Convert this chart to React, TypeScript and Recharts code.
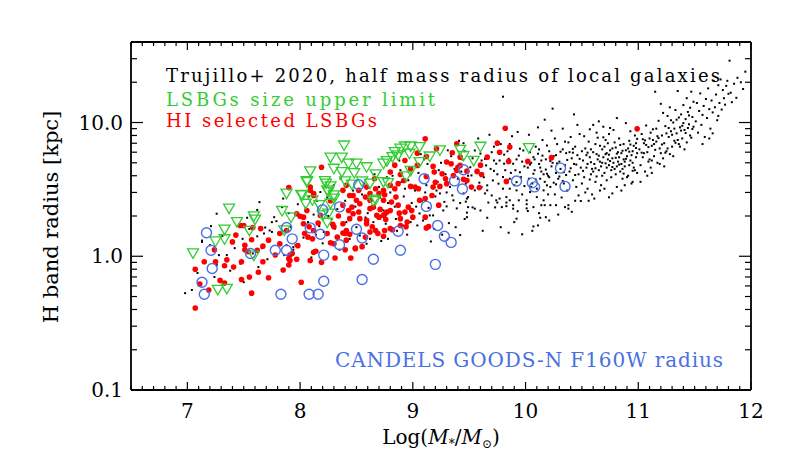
import { ScatterChart, Scatter, XAxis, YAxis } from "recharts";

// log stellar mass, radius [kpc]
const trujillo: [number, number][] = [
  [7.04, 0.56], [6.98, 0.53], [7.13, 1.31], [7.13, 1.28], [7.21, 1.68], [7.26, 2.08], [7.28, 1.02], [7.35, 1.02],
  [7.24, 0.7], [7.26, 0.86], [7.2, 1.21], [7.47, 0.88], [7.5, 0.64], [7.49, 1.35], [7.09, 0.75], [7.31, 1.42],
  [7.42, 1.15], [7.38, 0.78],
  [7.63, 0.83], [7.62, 1.41], [7.69, 1.64], [7.75, 1.52], [7.81, 1.48], [7.64, 2.54], [7.62, 2.22], [7.53, 1.94],
  [7.77, 1.96], [7.75, 1.8], [7.79, 1.83], [7.84, 2.33], [7.85, 2.7], [7.68, 1.48], [7.73, 1.56], [7.88, 1.21],
  [7.94, 1.17], [7.96, 1.21], [7.94, 1.12], [7.58, 1.05], [7.66, 1.15], [7.71, 0.95], [7.86, 1.02], [7.92, 1.65],
  [7.98, 2.45], [7.55, 1.6], [7.9, 2.1],
  [8.02, 1.75], [8.09, 3.05], [8.18, 3.02], [8.07, 1.8], [8.21, 1.52], [8.41, 1.8], [8.41, 1.49], [8.38, 1.48],
  [8.31, 1.61], [8.27, 1.27], [8.05, 2.3], [8.15, 2.6], [8.2, 1.25], [8.25, 2.0], [8.3, 3.4], [8.35, 1.12],
  [8.4, 2.6], [8.45, 1.9], [8.12, 2.05], [8.03, 1.38], [8.17, 1.68], [8.24, 2.75], [8.33, 2.25], [8.47, 3.1],
  [8.44, 1.35], [8.1, 0.98], [8.28, 1.9], [8.36, 3.8], [8.49, 2.35], [8.14, 1.45], [8.08, 2.8], [8.22, 3.3],
  [8.53, 1.43], [8.59, 1.24], [8.78, 1.35], [8.76, 1.75], [8.91, 1.7], [8.98, 1.8], [8.5, 1.65], [8.55, 2.9],
  [8.6, 2.1], [8.65, 1.8], [8.7, 3.3], [8.72, 1.3], [8.78, 2.5], [8.82, 4.0], [8.85, 1.9], [8.9, 3.6],
  [8.92, 2.8], [8.95, 1.45], [8.97, 4.6], [8.57, 3.5], [8.63, 2.6], [8.68, 1.55], [8.74, 2.2], [8.8, 3.0],
  [8.84, 2.35], [8.88, 5.2], [8.93, 3.2], [8.99, 2.5], [8.66, 4.1], [8.58, 1.95], [8.71, 2.75], [8.86, 1.55],
  [8.94, 2.15], [8.52, 2.45], [8.77, 3.9], [8.89, 4.4], [8.62, 1.35], [8.96, 3.7],
  [9.04, 1.7], [9.06, 2.09], [9.15, 2.02], [9.18, 2.02], [9.16, 1.29], [9.32, 1.77], [9.41, 7.3], [9.45, 7.0],
  [9.24, 2.95], [9.3, 3.0], [9.35, 2.85], [9.36, 2.62], [9.45, 2.95], [9.39, 2.28], [9.48, 1.96], [9.3, 2.36],
  [9.46, 1.9], [9.02, 3.1], [9.05, 4.2], [9.08, 2.6], [9.1, 5.3], [9.12, 3.4], [9.14, 2.3], [9.17, 4.6],
  [9.2, 2.8], [9.22, 3.6], [9.25, 5.0], [9.27, 2.2], [9.29, 4.1], [9.31, 6.2], [9.33, 3.3], [9.37, 4.5],
  [9.4, 3.8], [9.42, 2.5], [9.44, 5.3], [9.47, 3.5], [9.49, 4.0], [9.03, 2.35], [9.09, 1.85], [9.13, 4.9],
  [9.19, 1.6], [9.21, 3.1], [9.26, 1.45], [9.28, 2.55], [9.34, 5.6], [9.38, 1.65], [9.43, 4.3], [9.46, 6.1],
  [9.11, 3.0], [9.23, 4.4], [9.36, 3.9], [9.48, 2.7], [9.07, 5.8], [9.42, 1.44],
  [9.47, 2.56], [9.49, 2.33], [9.53, 2.32], [9.48, 2.12], [9.6, 2.2], [9.66, 1.94], [9.67, 2.52], [9.73, 2.32],
  [9.75, 2.52], [9.83, 2.52], [9.83, 2.37], [9.89, 2.41], [9.92, 1.91], [9.93, 2.17], [9.55, 6.18], [9.6, 5.86],
  [9.64, 5.35], [9.51, 4.63], [9.52, 4.02], [9.61, 5.2], [9.65, 4.78], [9.72, 5.2], [9.74, 4.92], [9.77, 5.2],
  [9.81, 4.92], [9.85, 5.35], [9.89, 4.92], [9.94, 5.66], [9.98, 6.18], [9.95, 6.37], [9.66, 3.11], [9.7, 2.85],
  [9.74, 2.62], [9.77, 2.7], [9.83, 2.77], [9.86, 2.62], [9.79, 2.33], [9.89, 2.27], [9.94, 2.62], [9.55, 2.27],
  [9.49, 2.77], [9.55, 3.11], [9.61, 3.29], [9.66, 3.39], [9.71, 3.69], [9.76, 3.49], [9.8, 3.91], [9.86, 3.8],
  [9.92, 3.58], [9.8, 3.2], [9.86, 3.2], [9.92, 3.11], [9.8, 15.6], [9.58, 7.6], [9.68, 8.1], [9.72, 6.6],
  [9.88, 7.9], [9.93, 8.5], [9.62, 1.55], [9.78, 1.65], [9.85, 1.5], [9.9, 1.8], [9.97, 1.46], [9.57, 4.4],
  [9.63, 3.9], [9.69, 4.5], [9.75, 4.1], [9.82, 4.4], [9.87, 4.2], [9.91, 4.4], [9.96, 3.9], [9.99, 4.7],
  [9.53, 5.4], [9.7, 6.0], [9.78, 6.9], [9.84, 6.1], [9.97, 5.1], [9.59, 3.55], [9.97, 2.9],
  [9.81, 5.75], [9.9, 3.4], [9.95, 4.25], [9.64, 2.95], [9.72, 4.35], [9.86, 6.9], [9.99, 3.35], [9.92, 5.3],
  [10.01, 2.45], [10.01, 2.28], [10.02, 2.18], [10.07, 2.33], [10.12, 2.1], [10.13, 1.94], [10.18, 1.96], [10.07, 1.67],
  [10.11, 1.7], [10.14, 2.41], [10.17, 2.41], [10.22, 2.41], [10.27, 2.41], [10.35, 2.33], [10.38, 2.41], [10.38, 2.27],
  [10.49, 2.59], [10.04, 6.0], [10.07, 5.51], [10.11, 5.84], [10.14, 5.2], [10.19, 6.73], [10.01, 2.62], [10.1, 2.77],
  [10.16, 2.62], [10.07, 4.14], [10.13, 3.8], [10.19, 4.14], [10.19, 3.39], [10.16, 3.11], [10.04, 3.02], [10.03, 3.8],
  [10.17, 10.5], [10.23, 8.7], [10.24, 12.7], [10.43, 11.5], [10.02, 4.6], [10.05, 5.0], [10.06, 3.5], [10.08, 4.4],
  [10.09, 6.6], [10.1, 3.2], [10.12, 4.9], [10.14, 4.3], [10.15, 7.4], [10.17, 3.6], [10.18, 5.3], [10.2, 4.0],
  [10.21, 6.1], [10.22, 3.3], [10.23, 4.7], [10.25, 5.6], [10.26, 2.9], [10.27, 4.2], [10.28, 6.9], [10.29, 3.8],
  [10.3, 5.1], [10.31, 4.5], [10.32, 2.75], [10.33, 6.3], [10.34, 3.5], [10.35, 4.8], [10.36, 5.9], [10.37, 3.1],
  [10.39, 4.3], [10.4, 7.8], [10.41, 5.4], [10.42, 3.7], [10.43, 4.9], [10.44, 6.6], [10.45, 3.3], [10.46, 5.7],
  [10.47, 4.1], [10.48, 8.2], [10.49, 4.6], [10.5, 3.5], [10.03, 8.1], [10.11, 9.2], [10.26, 7.6], [10.33, 9.0],
  [10.38, 7.1], [10.46, 9.6], [10.06, 1.55], [10.21, 1.85], [10.29, 2.05], [10.41, 2.15], [10.44, 2.6], [10.24, 5.0],
  [10.3, 3.95], [10.36, 4.05], [10.2, 2.9], [10.13, 4.6], [10.05, 3.3], [10.27, 3.45], [10.42, 5.95], [10.47, 2.85],
  [10.04, 4.85], [10.09, 3.75], [10.15, 5.65], [10.18, 4.45], [10.22, 5.15], [10.25, 3.55], [10.28, 4.95], [10.31, 6.05],
  [10.34, 4.25], [10.37, 5.25], [10.4, 4.55], [10.42, 6.35], [10.45, 4.85], [10.48, 5.35], [10.5, 6.1], [10.12, 6.3],
  [10.21, 3.9], [10.27, 5.7], [10.33, 3.65], [10.39, 6.0], [10.44, 4.05], [10.08, 5.3], [10.16, 4.1], [10.35, 7.2],
  [10.74, 2.76], [10.77, 2.95], [10.51, 5.2], [10.52, 3.9], [10.53, 6.4], [10.54, 4.6], [10.55, 3.2], [10.56, 7.2],
  [10.57, 5.5], [10.58, 4.1], [10.59, 2.9], [10.6, 6.0], [10.61, 4.9], [10.62, 3.6], [10.63, 8.4], [10.64, 5.3],
  [10.65, 4.4], [10.66, 6.7], [10.67, 3.4], [10.68, 5.0], [10.69, 9.3], [10.7, 4.2], [10.71, 5.8], [10.72, 3.7],
  [10.73, 7.0], [10.74, 4.8], [10.75, 6.2], [10.76, 3.9], [10.77, 5.4], [10.78, 8.8], [10.79, 4.5], [10.8, 6.5],
  [10.81, 3.3], [10.82, 5.1], [10.83, 7.6], [10.84, 4.3], [10.85, 5.9], [10.86, 3.8], [10.87, 6.9], [10.88, 4.7],
  [10.89, 9.9], [10.9, 5.6], [10.91, 4.0], [10.92, 7.3], [10.93, 5.2], [10.94, 3.5], [10.95, 6.1], [10.96, 4.6],
  [10.97, 8.0], [10.98, 5.5], [10.99, 4.2], [10.52, 7.9], [10.55, 4.9], [10.58, 6.3], [10.61, 2.7], [10.64, 7.7],
  [10.67, 4.7], [10.7, 6.6], [10.73, 5.3], [10.76, 4.4], [10.79, 7.1], [10.82, 6.0], [10.85, 4.9], [10.88, 3.4],
  [10.91, 6.4], [10.94, 5.7], [10.97, 4.4], [10.53, 3.0], [10.57, 8.9], [10.6, 4.3], [10.63, 5.8], [10.66, 3.1],
  [10.69, 5.5], [10.72, 4.6], [10.75, 9.1], [10.78, 5.0], [10.81, 4.7], [10.84, 6.8], [10.87, 5.3], [10.9, 3.9],
  [10.93, 8.6], [10.96, 6.7], [10.99, 5.9], [10.54, 5.7], [10.59, 4.5], [10.62, 6.9], [10.68, 4.0], [10.71, 7.4],
  [10.77, 6.4], [10.8, 4.1], [10.83, 5.5], [10.86, 4.5], [10.92, 4.8], [10.95, 5.0], [10.98, 7.0], [10.65, 10.2],
  [10.81, 10.8], [10.56, 2.6], [10.7, 3.2], [10.85, 3.1], [10.95, 3.6], [10.6, 9.6], [10.74, 8.2], [10.89, 6.2],
  [10.66, 5.1], [10.72, 5.9], [10.88, 5.1],
  [10.51, 4.35], [10.55, 5.95], [10.58, 5.05], [10.62, 4.55], [10.65, 5.65], [10.68, 6.3], [10.71, 4.95], [10.74, 5.75],
  [10.77, 4.65], [10.8, 5.45], [10.83, 4.85], [10.86, 6.15], [10.89, 5.35], [10.92, 6.05], [10.95, 4.35], [10.98, 6.45],
  [10.57, 3.75], [10.63, 3.95], [10.69, 7.75], [10.75, 5.15], [10.81, 5.85], [10.87, 4.15], [10.93, 6.85], [10.99, 7.55],
  [11.01, 6.3], [11.02, 4.8], [11.03, 8.2], [11.04, 5.5], [11.05, 7.0], [11.06, 4.3], [11.07, 9.5], [11.08, 6.0],
  [11.09, 5.1], [11.1, 7.6], [11.11, 4.6], [11.12, 6.7], [11.13, 8.9], [11.14, 5.6], [11.15, 17.0], [11.16, 7.2],
  [11.17, 5.0], [11.18, 10.3], [11.19, 6.4], [11.2, 13.8], [11.21, 8.0], [11.22, 5.4], [11.23, 7.0], [11.24, 9.4],
  [11.25, 6.1], [11.26, 11.2], [11.27, 7.8], [11.28, 5.8], [11.29, 8.6], [11.3, 6.6], [11.31, 10.0], [11.32, 7.3],
  [11.33, 12.4], [11.34, 8.3], [11.35, 17.2], [11.36, 6.9], [11.37, 9.2], [11.38, 11.5], [11.39, 7.6], [11.4, 13.5],
  [11.41, 8.8], [11.42, 10.6], [11.43, 7.1], [11.44, 12.0], [11.45, 9.7], [11.46, 8.0], [11.47, 17.0], [11.48, 11.0],
  [11.49, 14.3], [11.02, 3.6], [11.05, 5.9], [11.08, 4.0], [11.11, 8.4], [11.14, 6.9], [11.17, 7.9], [11.2, 5.9],
  [11.23, 4.7], [11.26, 6.4], [11.29, 10.4], [11.32, 9.0], [11.35, 7.4], [11.38, 8.7], [11.41, 6.3], [11.44, 9.1],
  [11.47, 7.7], [11.04, 7.5], [11.1, 5.3], [11.16, 9.0], [11.22, 11.8], [11.28, 13.0], [11.34, 10.5], [11.4, 9.9],
  [11.46, 12.9], [11.12, 4.2], [11.19, 4.9], [11.25, 8.3], [11.31, 5.6], [11.37, 6.6], [11.43, 15.2], [11.49, 9.3],
  [11.07, 6.8], [11.13, 7.4],
  [11.03, 5.95], [11.06, 7.35], [11.09, 6.55], [11.12, 5.2], [11.15, 6.25], [11.18, 7.65], [11.21, 6.85], [11.24, 5.95],
  [11.27, 9.1], [11.3, 8.1], [11.33, 7.05], [11.36, 10.9], [11.39, 9.45], [11.42, 8.35], [11.45, 11.3], [11.48, 8.95],
  [11.51, 10.2], [11.52, 14.0], [11.53, 8.4], [11.54, 12.2], [11.55, 16.5], [11.56, 9.6], [11.57, 11.4], [11.58, 13.3],
  [11.59, 7.8], [11.6, 15.0], [11.61, 10.8], [11.62, 18.0], [11.63, 12.6], [11.64, 9.0], [11.65, 14.6], [11.66, 11.9],
  [11.67, 20.5], [11.68, 13.0], [11.69, 16.2], [11.7, 10.4], [11.71, 19.0], [11.72, 14.0], [11.73, 21.0], [11.74, 12.5],
  [11.75, 17.5], [11.76, 15.2], [11.77, 13.6], [11.78, 18.8], [11.8, 16.4], [11.81, 29.0], [11.82, 16.7], [11.83, 14.2],
  [11.85, 19.5], [11.87, 15.3], [11.91, 20.0], [11.93, 17.8], [11.95, 24.0], [11.57, 6.9], [11.63, 7.6], [11.66, 8.3],
  [11.71, 11.2], [11.79, 20.5], [11.88, 21.6],
];

const hiLsbg: [number, number][] = [
  [7.07, 0.41], [7.07, 0.8], [7.15, 0.91], [7.11, 0.62], [7.19, 0.56], [7.25, 0.91], [7.29, 0.66], [7.33, 0.63],
  [7.35, 0.94], [7.41, 0.83], [7.43, 1.44], [7.48, 0.91], [7.48, 0.67], [7.55, 0.7], [7.57, 0.53], [7.51, 1.21],
  [7.51, 1.12], [7.54, 1.08], [7.57, 1.33], [7.62, 1.11], [7.67, 0.91], [7.67, 1.19], [7.72, 1.32], [7.5, 1.7],
  [7.58, 1.64], [7.82, 1.48], [7.82, 1.24], [7.91, 1.02], [7.91, 0.93], [7.9, 0.86], [7.85, 0.79], [7.97, 0.95],
  [8.01, 0.64], [8.09, 0.93], [8.04, 1.48], [8.11, 1.35], [8.12, 1.07], [8.14, 1.09], [8.27, 1.26], [8.33, 1.39],
  [8.38, 1.49], [8.44, 1.46], [8.08, 1.66], [8.16, 1.77], [8.29, 1.73], [8.38, 1.75], [7.4, 1.28], [7.47, 1.7],
  [7.9, 3.26], [8.09, 3.29], [8.12, 2.94], [7.97, 2.08], [8.0, 1.99], [8.03, 1.75], [7.9, 0.96], [7.93, 1.05],
  [8.41, 1.56], [8.45, 0.97], [8.49, 1.14], [8.38, 2.41], [8.43, 2.2], [8.47, 2.08], [8.53, 1.91], [8.59, 1.75],
  [8.62, 2.27], [8.67, 1.56], [8.7, 1.96], [8.75, 1.56], [8.44, 2.85], [8.5, 2.62], [8.62, 2.94], [8.74, 3.11],
  [8.77, 2.14], [8.59, 3.29], [8.38, 3.11], [8.41, 3.39], [9.82, 9.06], [9.75, 7.01], [9.86, 6.55], [9.77, 6.0],
  [9.11, 7.55], [9.04, 5.9], [9.12, 5.57], [9.21, 6.37], [9.35, 5.94], [9.34, 4.92], [9.42, 5.51], [9.66, 5.51],
  [9.57, 4.31], [9.61, 4.09], [9.52, 3.29], [9.59, 3.26], [9.85, 5.12], [10.02, 5.12], [9.83, 3.63], [9.18, 4.7],
  [9.19, 4.26], [9.26, 4.14], [9.29, 3.8], [9.3, 3.49], [9.24, 3.33], [9.18, 3.29], [9.2, 3.58], [9.12, 3.95],
  [9.17, 2.85], [9.11, 2.7], [9.02, 3.29], [9.05, 3.2], [8.98, 3.33], [8.92, 3.69], [8.84, 3.2], [8.87, 3.49],
  [8.8, 3.39], [8.75, 2.88], [8.85, 2.77], [8.81, 2.54], [8.87, 2.41], [8.93, 2.14], [8.74, 2.62], [8.67, 3.2],
  [8.71, 2.24], [8.65, 2.33], [8.74, 2.02], [8.8, 2.2], [8.89, 1.91], [8.96, 2.33], [9.0, 1.96], [9.06, 2.62],
  [9.11, 1.96], [9.23, 2.41], [9.14, 1.67], [8.68, 2.02], [8.59, 1.86], [8.52, 2.14], [8.64, 1.66], [8.76, 1.88],
  [8.8, 1.61], [8.89, 1.7], [8.94, 1.66], [8.62, 1.52], [8.69, 1.48], [8.74, 1.41], [8.58, 1.39], [8.49, 1.15],
  [8.4, 1.48], [8.41, 1.32], [8.3, 1.66], [8.44, 1.91], [8.46, 2.33], [8.53, 2.47], [8.58, 2.77], [8.62, 2.62],
  [8.47, 2.85], [8.52, 3.11], [8.7, 2.94], [8.89, 4.09], [8.98, 4.51], [8.8, 4.26], [9.04, 4.78], [9.39, 6.93],
  [9.42, 4.78], [9.3, 5.06], [9.39, 4.38], [9.48, 4.33], [9.36, 4.02], [9.45, 3.76], [8.19, 4.63], [8.09, 3.11],
  [8.12, 2.85], [8.06, 2.2], [8.03, 1.96], [8.18, 2.02], [8.12, 1.56], [8.07, 1.39], [8.24, 1.48], [8.3, 1.24],
  [8.82, 1.58], [8.88, 2.1], [8.95, 1.8], [8.99, 2.2], [8.75, 2.06], [9.12, 1.63], [10.23, 5.46], [9.4, 4.63],
  [9.48, 3.69], [10.99, 8.97], [7.24, 1.12], [7.33, 0.85], [7.63, 0.76], [7.72, 0.69], [7.78, 1.02], [7.65, 1.61],
  [7.88, 1.56], [7.98, 1.2], [8.19, 0.9], [8.31, 0.97], [8.4, 1.12], [8.55, 1.18], [8.34, 2.0], [8.27, 2.6],
  [8.66, 3.8], [8.84, 4.8], [8.93, 5.2], [9.6, 4.8],
];

const lsbgUpper: [number, number][] = [
  [7.37, 2.27], [7.05, 1.05], [7.25, 1.29], [7.33, 1.58], [7.33, 1.34], [7.44, 1.8], [7.59, 1.99], [7.6, 1.88],
  [7.55, 1.55], [7.59, 1.01], [7.27, 0.56], [7.35, 0.57], [7.88, 2.94], [8.02, 2.86], [8.05, 2.47], [7.84, 2.18],
  [7.92, 1.95], [7.86, 1.56], [8.24, 1.78], [8.25, 2.08], [8.65, 2.59], [8.06, 3.58], [8.23, 3.49], [8.25, 3.02],
  [8.3, 2.85], [8.39, 6.73], [8.37, 5.46], [8.27, 5.46], [8.3, 4.51], [8.43, 4.92], [8.5, 4.92], [8.59, 4.63],
  [8.37, 4.26], [8.48, 4.19], [8.09, 4.31], [8.06, 3.65], [8.22, 3.65], [8.27, 3.33], [8.4, 3.63], [8.46, 3.43],
  [8.55, 3.63], [8.67, 4.09], [8.74, 4.92], [8.77, 5.14], [8.82, 5.51], [8.84, 6.0], [8.89, 6.37], [8.93, 6.62],
  [8.98, 6.62], [9.06, 6.55], [8.87, 5.68], [8.97, 5.84], [9.15, 5.57], [9.24, 6.18], [9.06, 5.06], [8.98, 4.34],
  [8.74, 3.58], [8.78, 3.52], [8.62, 3.49], [8.94, 3.95], [8.01, 2.88], [8.11, 2.62], [8.24, 3.11], [8.3, 2.7],
  [8.17, 2.41], [8.27, 2.47], [8.2, 2.02], [8.67, 2.65], [9.42, 6.24], [9.45, 5.62], [9.54, 5.17], [9.6, 6.59],
  [10.03, 6.43],
];

const candels: [number, number][] = [
  [7.17, 1.5], [7.21, 1.11], [7.22, 0.81], [7.13, 0.64], [7.15, 0.52], [7.56, 1.05], [7.78, 1.11], [7.88, 1.11],
  [7.88, 1.64], [7.93, 1.35], [8.09, 1.63], [8.18, 1.46], [8.2, 2.23], [8.35, 2.34], [8.52, 3.43], [8.35, 1.22],
  [8.5, 1.59], [8.55, 1.37], [8.65, 0.95], [8.55, 0.67], [8.21, 0.65], [7.83, 0.52], [8.08, 0.52], [8.16, 0.52],
  [8.21, 1.02], [8.87, 1.54], [8.89, 1.11], [9.12, 2.36], [9.1, 3.8], [9.22, 1.7], [9.28, 1.41], [9.34, 1.27],
  [9.2, 0.87], [9.37, 3.66], [9.44, 3.18], [9.45, 4.44], [9.92, 3.65], [10.06, 3.54], [10.08, 3.3], [10.31, 4.56],
  [10.35, 3.33],
];

const xMajor = [7, 8, 9, 10, 11, 12];
const yMajor = [0.1, 1, 10];
const yLabels = ["0.1", "1.0", "10.0"];

const rows = (pts: [number, number][]) => pts.map(([m, r]) => ({ m, r }));

const xTicks: number[] = [];
for (let i = 65; i <= 120; i++) xTicks.push(i / 10);
const yTicks: number[] = [];
yMajor.forEach((d) => {
  for (let k = 1; k <= 9; k++) {
    const v = +(d * k).toPrecision(2);
    if (v < 40) yTicks.push(v);
  }
});

const FONT = "'DejaVu Serif', serif";
const isMajorX = (v: number) => xMajor.some((m) => Math.abs(m - v) < 1e-6);
const majorYIndex = (v: number) => yMajor.findIndex((m) => Math.abs(m - v) < 1e-9);

const BottomTick = ({ x, y, payload }: any) => {
  const major = isMajorX(payload.value);
  return (
    <g>
      <line x1={x} x2={x} y1={y} y2={y - (major ? 8 : 4)} stroke="#000" strokeWidth={1.2} />
      {major && (
        <text x={x} y={y + 28} textAnchor="middle" fontFamily={FONT} fontSize={20} fill="#000">
          {Math.round(payload.value)}
        </text>
      )}
    </g>
  );
};

const TopTick = ({ x, y, payload }: any) => {
  const major = isMajorX(payload.value);
  return <line x1={x} x2={x} y1={y} y2={y + (major ? 8 : 4)} stroke="#000" strokeWidth={1.2} />;
};

const LeftTick = ({ x, y, payload }: any) => {
  const i = majorYIndex(payload.value);
  return (
    <g>
      <line x1={x} x2={x + (i >= 0 ? 12 : 6)} y1={y} y2={y} stroke="#000" strokeWidth={1.2} />
      {i >= 0 && (
        <text x={x - 8} y={y + 7} textAnchor="end" fontFamily={FONT} fontSize={20} fill="#000">
          {yLabels[i]}
        </text>
      )}
    </g>
  );
};

const RightTick = ({ x, y, payload }: any) => {
  const i = majorYIndex(payload.value);
  return <line x1={x} x2={x - (i >= 0 ? 12 : 6)} y1={y} y2={y} stroke="#000" strokeWidth={1.2} />;
};

const Dot = (p: any) => <rect x={p.cx - 1} y={p.cy - 1} width={2} height={2} fill="#000" />;
const RedDot = (p: any) => <circle cx={p.cx} cy={p.cy} r={2.8} fill="#ff0000" />;
const Tri = (p: any) => (
  <polygon
    points={`${p.cx - 5.5},${p.cy - 4.5} ${p.cx + 5.5},${p.cy - 4.5} ${p.cx},${p.cy + 5}`}
    fill="none"
    stroke="#33cc33"
    strokeWidth={1.3}
  />
);
const Ring = (p: any) => (
  <circle cx={p.cx} cy={p.cy} r={5} fill="none" stroke="#4a6fe3" strokeWidth={1.4} />
);

const axisLine = { stroke: "#000", strokeWidth: 1.8 };

export default function App() {
  return (
    <div style={{ position: "absolute", left: 0, top: 0, width: 789, height: 474, background: "#fff" }}>
      <ScatterChart width={789} height={474} margin={{ top: 41, right: 37, bottom: 83, left: 130 }}>
        <XAxis xAxisId="b" type="number" dataKey="m" domain={[6.5, 12]} ticks={xTicks} interval={0}
          height={1} tickSize={0} tickMargin={0} tickLine={false} axisLine={axisLine} tick={<BottomTick />} allowDataOverflow />
        <XAxis xAxisId="t" orientation="top" type="number" dataKey="m" domain={[6.5, 12]} ticks={xTicks} interval={0}
          height={1} tickSize={0} tickMargin={0} tickLine={false} axisLine={axisLine} tick={<TopTick />} allowDataOverflow />
        <YAxis yAxisId="l" type="number" dataKey="r" scale="log" domain={[0.1, 40]} ticks={yTicks} interval={0}
          width={1} tickSize={0} tickMargin={0} tickLine={false} axisLine={axisLine} tick={<LeftTick />} allowDataOverflow />
        <YAxis yAxisId="r" orientation="right" type="number" dataKey="r" scale="log" domain={[0.1, 40]} ticks={yTicks} interval={0}
          width={1} tickSize={0} tickMargin={0} tickLine={false} axisLine={axisLine} tick={<RightTick />} allowDataOverflow />
        <Scatter xAxisId="b" yAxisId="l" data={rows(trujillo)} shape={Dot} isAnimationActive={false} />
        <Scatter xAxisId="b" yAxisId="l" data={rows(hiLsbg)} shape={RedDot} isAnimationActive={false} />
        <Scatter xAxisId="b" yAxisId="l" data={rows(lsbgUpper)} shape={Tri} isAnimationActive={false} />
        <Scatter xAxisId="b" yAxisId="l" data={rows(candels)} shape={Ring} isAnimationActive={false} />
      </ScatterChart>
      <svg width={789} height={474} style={{ position: "absolute", left: 0, top: 0, pointerEvents: "none" }}>
        <g fontFamily={FONT}>
          <text x={166} y={82} fontSize={18} fill="#000" textLength={554} lengthAdjust="spacing">
            Trujillo+ 2020, half mass radius of local galaxies
          </text>
          <text x={166} y={106} fontSize={18} fill="#33cc33" textLength={269} lengthAdjust="spacing">
            LSBGs size upper limit
          </text>
          <text x={166} y={127} fontSize={18} fill="#ff0000" textLength={211} lengthAdjust="spacing">
            HI selected LSBGs
          </text>
          <text x={335} y={367} fontSize={20} fill="#4a6fe3" textLength={388} lengthAdjust="spacing">
            CANDELS GOODS-N F160W radius
          </text>
          <text transform="translate(58,217) rotate(-90)" textAnchor="middle" fontSize={21} fill="#000">
            H band radius [kpc]
          </text>
          <text x={441} y={444} textAnchor="middle" fontSize={20} fill="#000">
            Log(<tspan fontStyle="italic">M</tspan>
            <tspan fontSize={12} dy={4}>*</tspan>
            <tspan dy={-4}>/</tspan>
            <tspan fontStyle="italic">M</tspan>
            <tspan fontSize={12} dy={4}>⊙</tspan>
            <tspan dy={-4}>)</tspan>
          </text>
        </g>
      </svg>
    </div>
  );
}
